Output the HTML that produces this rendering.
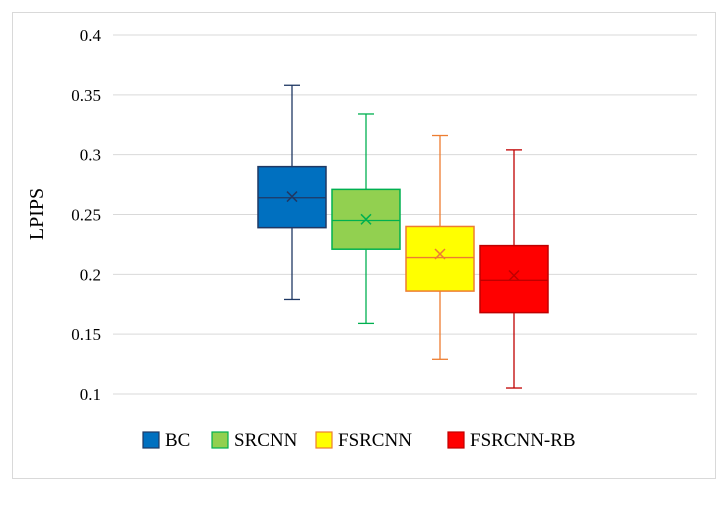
<!DOCTYPE html>
<html><head><meta charset="utf-8"><style>
body{margin:0;background:#fff;width:728px;height:506px;overflow:hidden}
svg text{font-family:"Liberation Serif",serif;fill:#000}
</style></head><body>
<svg id="chart" width="728" height="506" viewBox="0 0 728 506">
<rect x="12.5" y="12.5" width="703" height="466" fill="#fff" stroke="#d9d9d9"/>
<g id="grid"></g><g id="boxes"></g><g id="legend"></g>
<text transform="translate(43,214) rotate(-90)" text-anchor="middle" font-size="20">LPIPS</text>
</svg>
<script>
const categories=["BC","SRCNN","FSRCNN","FSRCNN-RB"];
const maxV=[0.358,0.334,0.316,0.304];
const q3V=[0.290,0.271,0.240,0.224];
const medV=[0.264,0.245,0.214,0.195];
const q1V=[0.239,0.221,0.186,0.168];
const minV=[0.179,0.159,0.129,0.105];
const meanV=[0.265,0.246,0.217,0.199];
const ticks=[0.1,0.15,0.2,0.25,0.3,0.35,0.4];
const tickLabels=["0.1","0.15","0.2","0.25","0.3","0.35","0.4"];
const fills=["#0070C0","#92D050","#FFFF00","#FF0000"];
const strokes=["#1F3864","#00B050","#ED7D31","#C00000"];
const NS="http://www.w3.org/2000/svg";
const y=v=>394-(v-0.1)/0.3*359;
const x=i=>292+i*74;
function mk(tag,attrs,parent){const e=document.createElementNS(NS,tag);for(const k in attrs)e.setAttribute(k,attrs[k]);parent.appendChild(e);return e;}
const grid=document.getElementById('grid');
ticks.forEach((t,i)=>{
 const l=mk('line',{x1:113,x2:697,y1:y(t),y2:y(t),stroke:'#d9d9d9','stroke-width':1},grid);
 
 
 const tx=mk('text',{x:101,y:y(t)+6,'text-anchor':'end','font-size':17},grid);
 tx.textContent=tickLabels[i];
 
 
});
const boxes=document.getElementById('boxes');
categories.forEach((c,i)=>{
 const g=mk('g',{},boxes);
 
 
 const cx=x(i),w=68,s=strokes[i];
 mk('line',{x1:cx,x2:cx,y1:y(maxV[i]),y2:y(q3V[i]),stroke:s,'stroke-width':1.3},g);
 mk('line',{x1:cx,x2:cx,y1:y(q1V[i]),y2:y(minV[i]),stroke:s,'stroke-width':1.3},g);
 mk('line',{x1:cx-8,x2:cx+8,y1:y(maxV[i]),y2:y(maxV[i]),stroke:s,'stroke-width':1.3},g);
 mk('line',{x1:cx-8,x2:cx+8,y1:y(minV[i]),y2:y(minV[i]),stroke:s,'stroke-width':1.3},g);
 mk('rect',{x:cx-w/2,y:y(q3V[i]),width:w,height:y(q1V[i])-y(q3V[i]),fill:fills[i],stroke:s,'stroke-width':1.5},g);
 mk('line',{x1:cx-w/2,x2:cx+w/2,y1:y(medV[i]),y2:y(medV[i]),stroke:s,'stroke-width':1.3},g);
 const my=y(meanV[i]);
 mk('path',{d:`M${cx-5} ${my-5}L${cx+5} ${my+5}M${cx-5} ${my+5}L${cx+5} ${my-5}`,stroke:s,'stroke-width':1.5},g);
});
const legend=document.getElementById('legend');
const lx=[143,212,316,448];
categories.forEach((c,i)=>{
 const g=mk('g',{},legend);
 
 
 mk('rect',{x:lx[i],y:432,width:16,height:16,fill:fills[i],stroke:strokes[i],'stroke-width':1.2},g);
 const t=mk('text',{x:lx[i]+22,y:446,'font-size':19},g);
 t.textContent=c;
});
</script>
</body></html>
